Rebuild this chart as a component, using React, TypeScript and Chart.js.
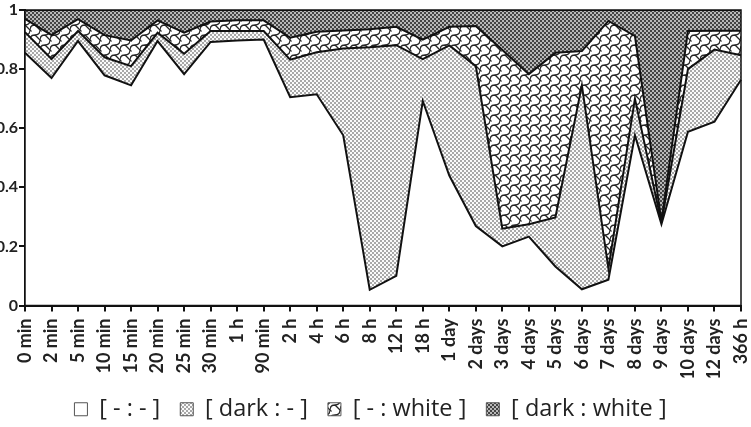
import React, { useEffect, useRef } from "react";
import { Chart, registerables } from "chart.js";

Chart.register(...registerables);

const categories = [
  "0 min", "2 min", "5 min", "10 min", "15 min", "20 min", "25 min", "30 min",
  "1 h", "90 min", "2 h", "4 h", "6 h", "8 h", "12 h", "18 h", "1 day",
  "2 days", "3 days", "4 days", "5 days", "6 days", "7 days", "8 days",
  "9 days", "10 days", "12 days", "366 h",
];

// [ - : - ]
const plainValues = [
  0.855, 0.770, 0.895, 0.779, 0.745, 0.895, 0.783, 0.892, 0.897, 0.900,
  0.705, 0.715, 0.576, 0.053, 0.100, 0.692, 0.440, 0.269, 0.200, 0.233,
  0.132, 0.055, 0.087, 0.576, 0.275, 0.588, 0.622, 0.764,
];
// [ dark : - ]
const darkValues = [
  0.070, 0.064, 0.034, 0.061, 0.065, 0.028, 0.069, 0.037, 0.032, 0.029,
  0.127, 0.142, 0.294, 0.821, 0.781, 0.142, 0.440, 0.541, 0.060, 0.042,
  0.166, 0.690, 0.038, 0.124, 0.005, 0.212, 0.244, 0.083,
];
// [ - : white ]
const whiteValues = [
  0.045, 0.081, 0.040, 0.075, 0.087, 0.042, 0.071, 0.032, 0.036, 0.036,
  0.074, 0.069, 0.061, 0.061, 0.062, 0.066, 0.063, 0.136, 0.605, 0.508,
  0.557, 0.116, 0.838, 0.212, 0.005, 0.129, 0.064, 0.083,
];
// [ dark : white ]
const darkWhiteValues = [
  0.030, 0.085, 0.031, 0.085, 0.103, 0.035, 0.077, 0.039, 0.035, 0.035,
  0.094, 0.074, 0.069, 0.065, 0.057, 0.100, 0.057, 0.054, 0.135, 0.217,
  0.145, 0.139, 0.037, 0.088, 0.715, 0.071, 0.070, 0.070,
];

const seriesLabels = ["[ - : - ]", "[ dark : - ]", "[ - : white ]", "[ dark : white ]"];
const yTicks = [0, 0.2, 0.4, 0.6, 0.8, 1];

function dotPattern(ctx: CanvasRenderingContext2D, fg: string, bg: string) {
  const c = document.createElement("canvas");
  c.width = 4;
  c.height = 4;
  const g = c.getContext("2d")!;
  g.fillStyle = bg;
  g.fillRect(0, 0, 4, 4);
  g.fillStyle = fg;
  g.fillRect(0, 0, 2, 2);
  g.fillRect(2, 2, 2, 2);
  return ctx.createPattern(c, "repeat")!;
}

function wavePattern(ctx: CanvasRenderingContext2D) {
  const s = 10;
  const c = document.createElement("canvas");
  c.width = s;
  c.height = s;
  const g = c.getContext("2d")!;
  g.fillStyle = "#ffffff";
  g.fillRect(0, 0, s, s);
  g.strokeStyle = "#262626";
  g.lineWidth = 1.3;
  g.beginPath();
  g.moveTo(0, s);
  g.quadraticCurveTo(0, s / 2, s / 2, s / 2);
  g.quadraticCurveTo(s, s / 2, s, 0);
  g.moveTo(s / 2, s / 2);
  g.quadraticCurveTo(s / 2 + 2.5, s / 2 + 2.5, s, s);
  g.moveTo(0, 0);
  g.lineTo(1.5, 1.5);
  g.stroke();
  return ctx.createPattern(c, "repeat")!;
}

const borderPlugin = {
  id: "plotBorder",
  afterDraw(chart: any) {
    const { ctx, chartArea } = chart;
    ctx.save();
    ctx.strokeStyle = "#111";
    ctx.lineWidth = 1.5;
    ctx.strokeRect(chartArea.left, chartArea.top, chartArea.right - chartArea.left, chartArea.bottom - chartArea.top);
    ctx.restore();
  },
};

export default function App() {
  const ref = useRef<HTMLCanvasElement | null>(null);

  useEffect(() => {
    const canvas = ref.current!;
    const ctx = canvas.getContext("2d")!;
    const fills = [
      "#ffffff",
      dotPattern(ctx, "#a8a8a8", "#fafafa"),
      wavePattern(ctx),
      dotPattern(ctx, "#444444", "#b8b8b8"),
    ];
    const values = [plainValues, darkValues, whiteValues, darkWhiteValues];
    const chart = new Chart(canvas, {
      type: "line",
      data: {
        labels: categories,
        datasets: values.map((v, i) => ({
          label: seriesLabels[i],
          data: v,
          backgroundColor: fills[i] as any,
          borderColor: "#111",
          borderWidth: 2,
          pointRadius: 0,
          tension: 0,
          fill: i === 0 ? "origin" : "-1",
        })),
      },
      options: {
        animation: false,
        responsive: false,
        maintainAspectRatio: false,
        layout: { padding: { top: 10, right: 10, left: 0, bottom: -4 } },
        plugins: {
          tooltip: { enabled: false },
          legend: {
            position: "bottom",
            labels: {
              boxWidth: 13,
              boxHeight: 13,
              padding: 20,
              color: "#222",
              font: { family: "Open Sans", size: 23.5, lineHeight: 1.0 },
              generateLabels(chart: any) {
                return chart.data.datasets.map((ds: any, i: number) => ({
                  text: ds.label,
                  fillStyle: ds.backgroundColor,
                  strokeStyle: "#555",
                  lineWidth: 1,
                  hidden: false,
                  datasetIndex: i,
                  fontColor: "#222",
                }));
              },
            },
          },
        },
        scales: {
          x: {
            type: "category",
            offset: false,
            grid: { drawOnChartArea: false, drawTicks: true, tickLength: 6, color: "#111", lineWidth: 2 },
            border: { display: true, color: "#111", width: 2 },
            ticks: {
              autoSkip: false,
              maxRotation: 90,
              minRotation: 90,
              padding: 7,
              color: "#222",
              font: { family: "Lato", size: 18, weight: "bold" },
            },
            afterFit(scale: any) {
              scale.height = 72;
              scale.paddingLeft = 0;
              scale.paddingRight = 0;
            },
          },
          y: {
            stacked: true,
            min: 0,
            max: 1,
            afterBuildTicks(scale: any) {
              scale.ticks = yTicks.map((v) => ({ value: v }));
            },
            grid: { drawOnChartArea: false, drawTicks: true, tickLength: 6, color: "#111", lineWidth: 2 },
            border: { display: true, color: "#111", width: 2 },
            ticks: {
              padding: 1,
              color: "#222",
              font: { family: "Lato", size: 16, weight: "bold" },
              callback: (v: any) => String(Math.round(Number(v) * 10) / 10),
            },
            afterFit(scale: any) {
              scale.width = 25;
              scale.paddingTop = 0;
              scale.paddingBottom = 0;
            },
          },
        },
      },
      plugins: [borderPlugin],
    });
    return () => chart.destroy();
  }, []);

  return (
    <div style={{ position: "fixed", left: 0, top: 0, width: 751, height: 427, background: "#fff" }}>
      <canvas ref={ref} width={751} height={427} style={{ width: 751, height: 427, display: "block" }} />
    </div>
  );
}
